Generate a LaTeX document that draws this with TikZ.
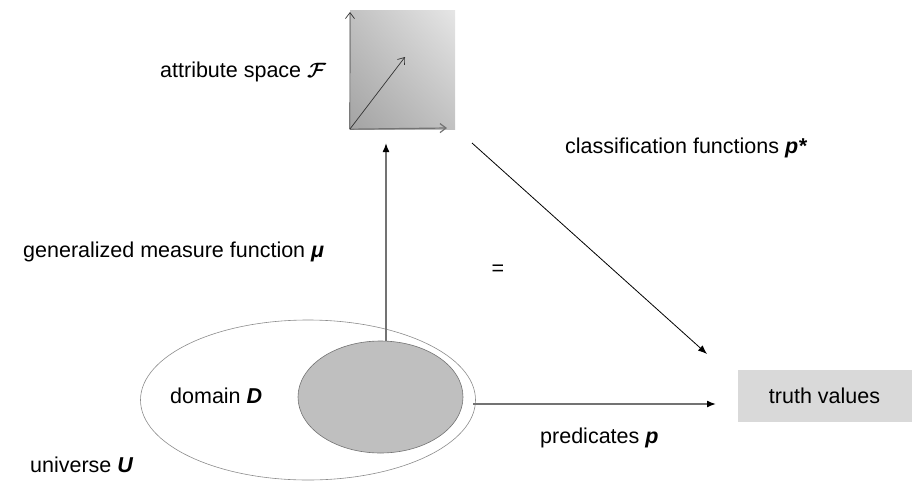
\documentclass[tikz,border=0pt]{standalone}
\usepackage{fontspec}
\setmainfont{Liberation Sans}
\usepackage{amsmath}
\usetikzlibrary{positioning,arrows.meta,shapes.geometric,shadings}
\newcommand{\bival}[1]{\textbf{\textit{#1}}}

\begin{document}
\begin{tikzpicture}[x=1pt,y=-1pt,
    every node/.style={font=\fontsize{21.5}{25}\selectfont},
    lbl/.style={anchor=west, inner sep=0pt},
    axis/.style={-{Straight Barb[length=6pt,width=9pt]}, line width=0.7pt, draw=black!80},
    flow/.style={-{Latex[length=9pt,width=7pt,color=black]}, line width=1.5pt, draw=black!55},
    thinflow/.style={-{Latex[length=9pt,width=7pt]}, line width=0.8pt}]
    \useasboundingbox (0,0) rectangle (913,480);

    % attribute space
    \node[shade, lower left=black!36, upper right=black!10, lower right=black!24, upper left=black!24,
          minimum width=105pt, minimum height=119pt, inner sep=0pt] (space) at (402.5,69.5) {};
    \coordinate (origin) at (space.south west);
    \coordinate (ytip) at (350,12);
    \coordinate (xtip) at (447,128);
    \coordinate (vtip) at (405,57);
    \draw[axis] (origin) -- (ytip);
    \draw[axis, draw=black!55, line width=1.2pt] (origin) -- (xtip);
    \draw[axis] (origin) -- (vtip);
    \node[lbl] (spacelabel) at (160,72) {attribute space $\boldsymbol{\mathcal{F}}$};

    % universe and domain
    \node[ellipse, draw=black!45, line width=0.6pt, minimum width=335pt, minimum height=160pt] (universe) at (308,400) {};
    \node[ellipse, draw=black!55, fill=black!25, line width=0.6pt, minimum width=165pt, minimum height=112pt] (domain) at (380.5,397) {};
    \node[lbl] (domainlabel) at (170,396) {domain \bival{D}};
    \node[lbl] (universelabel) at (30,465) {universe \bival{U}};

    % truth values
    \node[fill=black!15, minimum width=174pt, minimum height=52pt] (truth) at (824.5,396) {truth values};

    % connectors
    \coordinate (mutip) at (386,143);
    \coordinate (pstart) at (472,143);
    \coordinate (ptip) at (707,354);
    \coordinate (predfoot) at (473,404);
    \coordinate (predtip) at (716,404);
    \draw[flow] (domain.north -| mutip) -- (mutip);
    \draw[thinflow] (pstart) -- (ptip);
    \draw[flow] (predfoot) -- (predtip);

    \node[lbl] (mulabel) at (23,252) {generalized measure function \bival{μ}};
    \node[lbl] (classlabel) at (565,148) {classification functions \bival{p*}};
    \node[lbl] (predlabel) at (540,438) {predicates \bival{p}};
    \node (equal) at (498,270) {=};
\end{tikzpicture}
\end{document}
